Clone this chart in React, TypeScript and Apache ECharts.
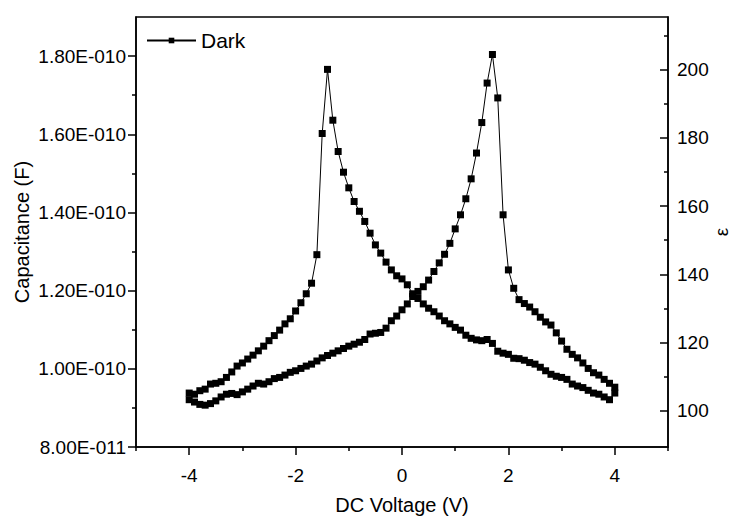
import React, { useEffect, useRef } from "react";
import * as echarts from "echarts";

// Forward sweep (-4 V -> +4 V)
const voltageForward = [
  -4.0, -3.9, -3.8, -3.7, -3.6, -3.5, -3.4, -3.3, -3.2, -3.1,
  -3.0, -2.9, -2.8, -2.7, -2.6, -2.5, -2.4, -2.3, -2.2, -2.1,
  -2.0, -1.9, -1.8, -1.7, -1.6, -1.5, -1.4, -1.3, -1.2, -1.1,
  -1.0, -0.9, -0.8, -0.7, -0.6, -0.5, -0.4, -0.3, -0.2, -0.1,
  0.0, 0.1, 0.2, 0.3, 0.4, 0.5, 0.6, 0.7, 0.8, 0.9,
  1.0, 1.1, 1.2, 1.3, 1.4, 1.5, 1.6, 1.7, 1.8, 1.9,
  2.0, 2.1, 2.2, 2.3, 2.4, 2.5, 2.6, 2.7, 2.8, 2.9,
  3.0, 3.1, 3.2, 3.3, 3.4, 3.5, 3.6, 3.7, 3.8, 3.9, 4.0,
];
// Capacitance in units of 1e-10 F
const capForward = [
  0.921, 0.915, 0.909, 0.907, 0.911, 0.918, 0.928, 0.935, 0.937, 0.934,
  0.941, 0.948, 0.956, 0.963, 0.961, 0.967, 0.975, 0.978, 0.984, 0.991,
  0.995, 1.001, 1.007, 1.012, 1.020, 1.028, 1.034, 1.040, 1.046, 1.052,
  1.058, 1.063, 1.068, 1.075, 1.089, 1.091, 1.093, 1.104, 1.123, 1.135,
  1.151, 1.166, 1.185, 1.198, 1.210, 1.227, 1.249, 1.271, 1.293, 1.321,
  1.358, 1.394, 1.435, 1.486, 1.552, 1.630, 1.731, 1.804, 1.693, 1.394,
  1.253, 1.206, 1.177, 1.167, 1.158, 1.146, 1.132, 1.120, 1.112, 1.092,
  1.071, 1.050, 1.037, 1.028, 1.015, 1.001, 0.990, 0.984, 0.973, 0.963, 0.953,
];

// Backward sweep (+4 V -> -4 V)
const voltageBackward = [
  4.0, 3.9, 3.8, 3.7, 3.6, 3.5, 3.4, 3.3, 3.2, 3.1,
  3.0, 2.9, 2.8, 2.7, 2.6, 2.5, 2.4, 2.3, 2.2, 2.1,
  2.0, 1.9, 1.8, 1.7, 1.6, 1.5, 1.4, 1.3, 1.2, 1.1,
  1.0, 0.9, 0.8, 0.7, 0.6, 0.5, 0.4, 0.3, 0.2, 0.1,
  0.0, -0.1, -0.2, -0.3, -0.4, -0.5, -0.6, -0.7, -0.8, -0.9,
  -1.0, -1.1, -1.2, -1.3, -1.4, -1.5, -1.6, -1.7, -1.8, -1.9,
  -2.0, -2.1, -2.2, -2.3, -2.4, -2.5, -2.6, -2.7, -2.8, -2.9,
  -3.0, -3.1, -3.2, -3.3, -3.4, -3.5, -3.6, -3.7, -3.8, -3.9, -4.0,
];
const capBackward = [
  0.938, 0.921, 0.928, 0.935, 0.938, 0.945, 0.952, 0.956, 0.961, 0.973,
  0.978, 0.981, 0.986, 0.995, 1.004, 1.012, 1.016, 1.022, 1.026, 1.027,
  1.037, 1.040, 1.045, 1.065, 1.075, 1.072, 1.074, 1.078, 1.086, 1.099,
  1.106, 1.115, 1.123, 1.135, 1.146, 1.155, 1.166, 1.180, 1.192, 1.215,
  1.230, 1.238, 1.253, 1.273, 1.296, 1.317, 1.347, 1.377, 1.403, 1.428,
  1.463, 1.503, 1.556, 1.636, 1.766, 1.602, 1.292, 1.219, 1.192, 1.169,
  1.148, 1.128, 1.115, 1.099, 1.085, 1.072, 1.058, 1.046, 1.035, 1.025,
  1.015, 1.007, 0.992, 0.978, 0.967, 0.963, 0.961, 0.948, 0.944, 0.935, 0.938,
];

const xLabels = [-4, -2, 0, 2, 4];
const xMinorTicks = [-5, -3, -1, 1, 3, 5];
const capLabels = [0.8, 1.0, 1.2, 1.4, 1.6, 1.8];
const capMinorTicks = [0.9, 1.1, 1.3, 1.5, 1.7];
const epsLabels = [100, 120, 140, 160, 180, 200];
const epsMinorTicks = [110, 130, 150, 170, 190, 210];

const CAP_MIN = 0.8;
const CAP_MAX = 1.9;
const EPS_MIN = 89.3;
const EPS_MAX = 215.5;

const FONT = "'Liberation Sans', Arial, sans-serif";

function fmtCap(v: number): string {
  const s = (v * 1e-10).toExponential(2);
  const [m, e] = s.split("e");
  const neg = e.startsWith("-");
  const digits = e.replace(/[+-]/, "").padStart(3, "0");
  return `${m}E${neg ? "-" : ""}${digits}`;
}

export default function App() {
  const ref = useRef<HTMLDivElement>(null);
  useEffect(() => {
    if (!ref.current) return;
    const chart = echarts.init(ref.current, undefined, { renderer: "svg" });
    const data: number[][] = [];
    voltageForward.forEach((v, i) => data.push([v, capForward[i]]));
    voltageBackward.forEach((v, i) => data.push([v, capBackward[i]]));

    const axisLine = { show: true, onZero: false, lineStyle: { color: "#000", width: 1.5 } };
    const noLine = { show: false, onZero: false };
    const tickLine = { color: "#000", width: 1.5 };
    const labelStyle = { color: "#000", fontFamily: FONT, fontSize: 19 };

    chart.setOption({
      animation: false,
      backgroundColor: "#fff",
      grid: {
        left: 136,
        right: 66,
        top: 17,
        bottom: 71,
        show: true,
        borderColor: "#000",
        borderWidth: 1.5,
        containLabel: false,
        outerBoundsMode: "none",
      },
      legend: {
        left: 146,
        top: 30,
        padding: 0,
        itemWidth: 49,
        itemHeight: 7,
        itemGap: 5,
        textStyle: { color: "#000", fontFamily: FONT, fontSize: 21 },
        data: ["Dark"],
      },
      xAxis: [
        {
          type: "value",
          min: -5,
          max: 5,
          position: "bottom",
          name: "DC Voltage (V)",
          nameLocation: "middle",
          nameGap: 48,
          nameMoveOverlap: false,
          nameTextStyle: { color: "#000", fontFamily: FONT, fontSize: 20 },
          axisLine,
          splitLine: { show: false },
          axisTick: { show: true, inside: false, length: 8, customValues: xLabels, lineStyle: tickLine },
          axisLabel: { ...labelStyle, margin: 19, customValues: xLabels, formatter: (v: number) => `${v}` },
        },
        {
          type: "value",
          min: -5,
          max: 5,
          position: "bottom",
          axisLine: noLine,
          splitLine: { show: false },
          axisTick: { show: true, inside: false, length: 4, customValues: xMinorTicks, lineStyle: tickLine },
          axisLabel: { show: false },
        },
      ],
      yAxis: [
        {
          type: "value",
          min: CAP_MIN,
          max: CAP_MAX,
          position: "left",
          name: "Capacitance (F)",
          nameLocation: "middle",
          nameGap: 104,
          nameMoveOverlap: false,
          nameTextStyle: { color: "#000", fontFamily: FONT, fontSize: 20 },
          axisLine,
          splitLine: { show: false },
          axisTick: { show: true, inside: false, length: 8, customValues: capLabels, lineStyle: tickLine },
          axisLabel: { ...labelStyle, margin: 10, customValues: capLabels, formatter: (v: number) => fmtCap(v) },
        },
        {
          type: "value",
          min: EPS_MIN,
          max: EPS_MAX,
          position: "right",
          name: "ε",
          nameLocation: "middle",
          nameGap: 44,
          nameRotate: 90,
          nameMoveOverlap: false,
          nameTextStyle: { color: "#000", fontFamily: FONT, fontSize: 19 },
          axisLine,
          splitLine: { show: false },
          axisTick: { show: true, inside: true, length: 8, customValues: epsLabels, lineStyle: tickLine },
          axisLabel: { ...labelStyle, margin: 9, customValues: epsLabels, formatter: (v: number) => `${v}` },
        },
        {
          type: "value",
          min: CAP_MIN,
          max: CAP_MAX,
          position: "left",
          axisLine: noLine,
          splitLine: { show: false },
          axisTick: { show: true, inside: false, length: 4, customValues: capMinorTicks, lineStyle: tickLine },
          axisLabel: { show: false },
        },
        {
          type: "value",
          min: EPS_MIN,
          max: EPS_MAX,
          position: "right",
          axisLine: noLine,
          splitLine: { show: false },
          axisTick: { show: true, inside: true, length: 4, customValues: epsMinorTicks, lineStyle: tickLine },
          axisLabel: { show: false },
        },
      ],
      series: [
        {
          name: "Dark",
          type: "line",
          xAxisIndex: 0,
          yAxisIndex: 0,
          data,
          symbol: "rect",
          symbolSize: 7,
          showSymbol: true,
          color: "#000",
          itemStyle: { color: "#000", borderWidth: 0 },
          lineStyle: { color: "#000", width: 1 },
          z: 5,
        },
      ],
    });
    return () => chart.dispose();
  }, []);
  return (
    <div
      ref={ref}
      style={{ position: "fixed", left: 0, top: 0, width: 734, height: 518, background: "#fff" }}
    />
  );
}
